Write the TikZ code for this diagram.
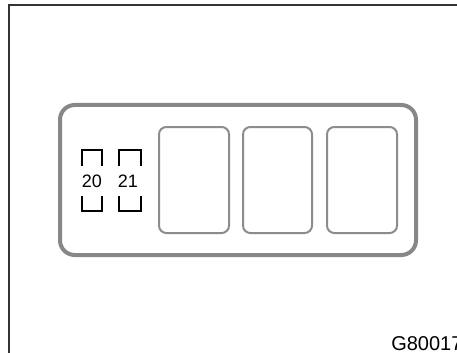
\documentclass[tikz,border=0pt]{standalone}
\usepackage{fontspec}
\setmainfont{Liberation Sans}
\begin{document}
\begin{tikzpicture}[x=0.75pt,y=-0.75pt,
  outerbox/.style={draw=black!47,line width=3pt,rounded corners=11pt},
  relay/.style={draw=black!45,line width=1.5pt,rounded corners=5.5pt,fill=white},
  bracket/.style={draw=black,line width=1.5pt},
  lbl/.style={inner sep=0pt,font=\fontsize{13.5pt}{15pt}\selectfont}]
\useasboundingbox (0,0) rectangle (457,353);
\begin{scope}
\clip (0,0) rectangle (457,353);
\fill[white] (0,0) rectangle (457,353);
\draw[black!80,line width=0.9pt] (9,5) rectangle (470,370);
\node[lbl,anchor=base west,font=\fontsize{15pt}{17pt}\selectfont] (code) at (391,350) {G80017};
\end{scope}
\draw[outerbox] (60,105) rectangle (416,255);
\draw[relay] (159,127) rectangle (229,233);
\draw[relay] (243,127) rectangle (312,233);
\draw[relay] (327,127) rectangle (397,233);
\draw[bracket] (82,166) -- (82,150) -- (102,150) -- (102,166);
\draw[bracket] (82,196) -- (82,211) -- (102,211) -- (102,196);
\draw[bracket] (119,166) -- (119,150) -- (141,150) -- (141,166);
\draw[bracket] (119,196) -- (119,211) -- (141,211) -- (141,196);
\node[lbl,anchor=base] (f20) at (92,187.5) {20};
\node[lbl,anchor=base] (f21) at (128,187.5) {21};
\end{tikzpicture}
\end{document}
